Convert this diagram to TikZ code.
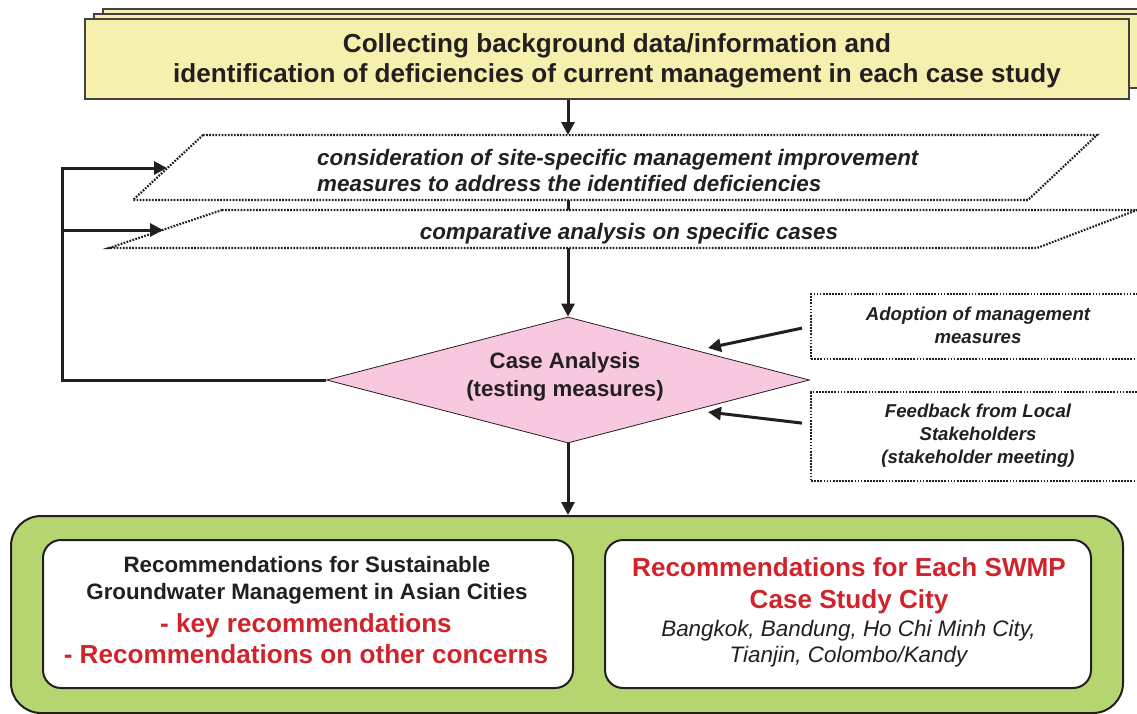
\documentclass[tikz,border=0pt]{standalone}
\usepackage{fontspec}
\setmainfont{Liberation Sans}
\usetikzlibrary{arrows.meta,shapes.geometric}
\definecolor{paper}{RGB}{246,240,174}
\definecolor{pinkfill}{RGB}{248,200,222}
\definecolor{greenfill}{RGB}{180,213,112}
\definecolor{recred}{RGB}{208,35,44}
\definecolor{ink}{RGB}{35,31,32}
\begin{document}
\begin{tikzpicture}[x=1pt,y=-1pt,
  sheet/.style={draw=ink!85, fill=paper, line width=1.6pt},
  dotline/.style={draw=ink, line width=2.2pt, dash pattern=on 1.7pt off 1.4pt},
  flow/.style={draw=ink, line width=3pt, -{Triangle[length=13pt,width=13pt]}},
  bar/.style={draw=ink, line width=3pt},
  txt/.style={text=ink, inner sep=0pt, align=center},
  whitebox/.style={draw=ink, fill=white, line width=2pt, rounded corners=18pt,
    anchor=north west, inner sep=0pt}]
\useasboundingbox (0,0) rectangle (1137,713);
\clip (0,0) rectangle (1137,713);

% stacked sheets of the heading
\draw[sheet] (103,9) rectangle (1160,80);
\draw[sheet] (94,14) rectangle (1138,88);
\node[sheet, minimum width=1044pt, minimum height=80pt, anchor=north west,
      inner sep=0pt] (top) at (84,18) {};
\node[txt, font=\bfseries\fontsize{26.1}{30}\selectfont] (toptext) at (617,61)
  {Collecting background data/information and\\
   identification of deficiencies of current management in each case study};

% dotted parallelograms
\draw[dotline] (203,135) -- (1097,135) -- (1028,200) -- (133,200) -- cycle;
\coordinate (p1top) at (568,135);
\coordinate (p1bot) at (568,200);
\coordinate (p1in) at (167,168);
\node[txt, align=left, anchor=west, font=\bfseries\itshape\fontsize{22.4}{26}\selectfont]
  (p1text) at (317,170)
  {consideration of site-specific management improvement\\
   measures to address the identified deficiencies};

\draw[dotline] (222,210) -- (1137,210) -- (1037,248) -- (109,248) -- cycle;
\coordinate (p2top) at (568,210);
\coordinate (p2bot) at (568,248);
\coordinate (p2in) at (163,230);
\node[txt, font=\bfseries\itshape\fontsize{22.4}{26}\selectfont] (p2text) at (629,234)
  {comparative analysis on specific cases};

% decision diamond
\node[diamond, draw=ink, line width=0.8pt, fill=pinkfill, minimum width=483pt,
      minimum height=126pt, inner sep=0pt] (case) at (568,380) {};
\node[txt, font=\bfseries\fontsize{22.2}{28}\selectfont] (casetext) at (565,377)
  {Case Analysis\\(testing measures)};

% side inputs
\node[dotline, minimum width=340pt, minimum height=65pt, anchor=north west,
      inner sep=0pt] (adopt) at (810,293) {};
\node[txt, font=\bfseries\itshape\fontsize{18.6}{23}\selectfont] (adopttext) at (978,325)
  {Adoption of management\\measures};
\node[dotline, minimum width=340pt, minimum height=89pt, anchor=north west,
      inner sep=0pt] (feed) at (810,391) {};
\node[txt, font=\bfseries\itshape\fontsize{18.6}{23}\selectfont] (feedtext) at (978,436)
  {Feedback from Local\\Stakeholders\\(stakeholder meeting)};
\coordinate (adoptin) at (708,348);
\coordinate (feedin) at (708,412);

% outcome panel
\node[draw=ink, fill=greenfill, line width=2pt, rounded corners=30pt,
      minimum width=1112pt, minimum height=197pt, anchor=north west,
      inner sep=0pt] (result) at (10,515) {};
\node[whitebox, minimum width=530pt, minimum height=148pt] (recA) at (42,539) {};
\node[whitebox, minimum width=486pt, minimum height=148pt] (recB) at (604,539) {};
\node[txt, font=\bfseries\fontsize{22.3}{27}\selectfont] (recAtitle) at (307,580.5)
  {Recommendations for Sustainable\\Groundwater Management in Asian Cities};
\node[txt, text=recred, font=\bfseries\fontsize{26.1}{31}\selectfont] (recAlist) at (306,639)
  {- key recommendations\\- Recommendations on other concerns};
\node[txt, text=recred, font=\bfseries\fontsize{26.1}{32}\selectfont] (recBtitle) at (849,585.5)
  {Recommendations for Each SWMP\\Case Study City};
\node[txt, font=\itshape\fontsize{22.4}{26}\selectfont] (recBcities) at (848.5,643.5)
  {Bangkok, Bandung, Ho Chi Minh City,\\Tianjin, Colombo/Kandy};

% connectors
\draw[flow] (p1top |- top.south) -- (p1top);
\draw[bar] (p1bot) -- (p2top);
\draw[flow] (p2bot) -- (case.north);
\draw[flow] (case.south) -- (case.south |- result.north);
\draw[flow, line join=miter] (case.west) -- (62,380) -- (62,168) -- (p1in);
\draw[flow] (62,230) -- (p2in);
\draw[flow] ([xshift=-8pt,yshift=-1.5pt]adopt.west) -- (adoptin);
\draw[flow] ([xshift=-8pt,yshift=13.5pt]feed.west) -- (feedin);
\end{tikzpicture}
\end{document}
